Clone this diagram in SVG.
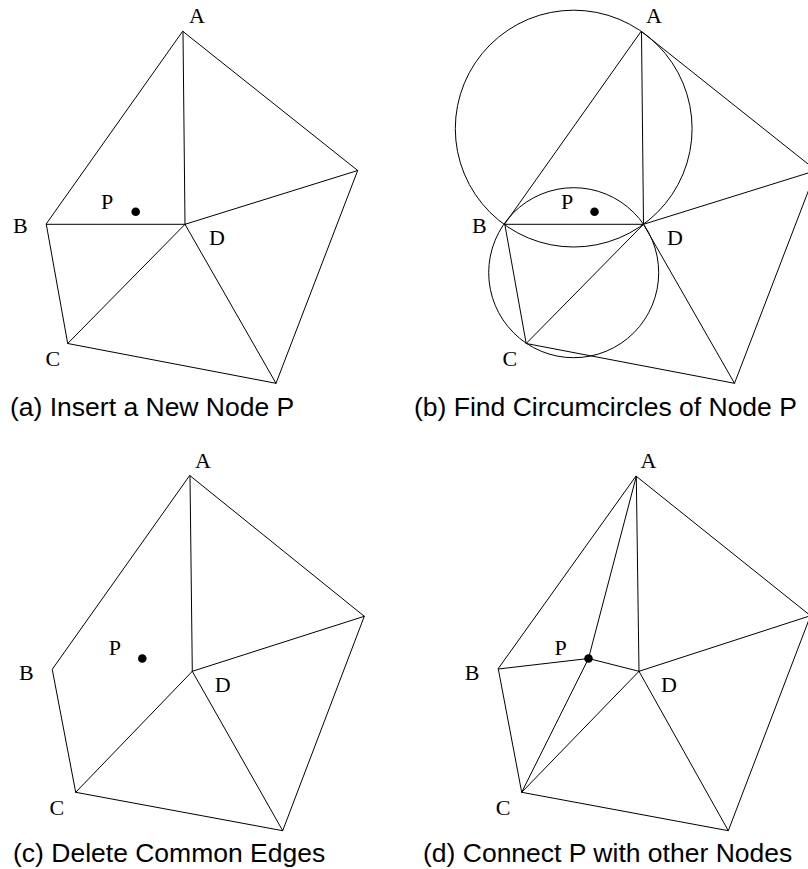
<svg xmlns="http://www.w3.org/2000/svg" width="808" height="869" viewBox="0 0 808 869">
<style>
.e{stroke:#000;stroke-width:1;fill:none;stroke-linecap:round;stroke-linejoin:round}
.c{stroke:#000;stroke-width:1;fill:none}
.l{font-family:"Liberation Serif","Times New Roman",serif;font-size:22px;fill:#000}
.cap{font-family:"Liberation Sans",Arial,sans-serif;font-size:26.5px;fill:#000}
.dot{fill:#000}
</style>
<rect width="808" height="869" fill="#fff"/>

<!-- Panel (a) -->
<g id="panel-a">
  <g id="connectors-a">
    <path class="e" d="M183,31.5 L357.7,170.5 L276,383.3 L67.7,343.5 L46.3,224.3 Z"/>
    <path class="e" d="M183,31.5 L185,224.3 M46.3,224.3 L185,224.3 M185,224.3 L357.7,170.5 M185,224.3 L276,383.3 M185,224.3 L67.7,343.5"/>
  </g>
  <g id="a-node-A"><text class="l" x="189" y="22.7">A</text></g>
  <g id="a-node-B"><text class="l" x="13" y="232.5">B</text></g>
  <g id="a-node-C"><text class="l" x="45.5" y="366">C</text></g>
  <g id="a-node-D"><text class="l" x="209" y="244.5">D</text></g>
  <g id="a-node-P"><circle class="dot" cx="135.7" cy="211.8" r="4.3"/><text class="l" x="101" y="209">P</text></g>
  <text id="caption-a" class="cap" x="10" y="415.5">(a) Insert a New Node P</text>
</g>

<!-- Panel (b) -->
<g id="panel-b">
  <g id="connectors-b">
    <circle class="c" cx="573.7" cy="128.6" r="118.4"/>
    <circle class="c" cx="573.7" cy="272.7" r="85"/>
    <path class="e" d="M641.5,31.5 L816.2,170.5 L734.5,383.3 L526.2,343.5 L504.8,224.3 Z"/>
    <path class="e" d="M641.5,31.5 L643.5,224.3 M504.8,224.3 L643.5,224.3 M643.5,224.3 L816.2,170.5 M643.5,224.3 L734.5,383.3 M643.5,224.3 L526.2,343.5"/>
  </g>
  <g id="b-node-A"><text class="l" x="646" y="22.7">A</text></g>
  <g id="b-node-B"><text class="l" x="472" y="232.5">B</text></g>
  <g id="b-node-C"><text class="l" x="502.5" y="366">C</text></g>
  <g id="b-node-D"><text class="l" x="667" y="244.5">D</text></g>
  <g id="b-node-P"><circle class="dot" cx="594.5" cy="211.8" r="4.3"/><text class="l" x="561" y="209">P</text></g>
  <text id="caption-b" class="cap" x="414" y="415.5">(b) Find Circumcircles of Node P</text>
</g>

<!-- Panel (c) -->
<g id="panel-c">
  <g id="connectors-c">
    <path class="e" d="M190,475.7 L364.3,616.3 L282.7,830.7 L75.7,792.3 L52.3,669.7 Z"/>
    <path class="e" d="M190,475.7 L192.3,671.3 M192.3,671.3 L364.3,616.3 M192.3,671.3 L282.7,830.7 M192.3,671.3 L75.7,792.3"/>
  </g>
  <g id="c-node-A"><text class="l" x="195" y="468.3">A</text></g>
  <g id="c-node-B"><text class="l" x="19" y="680">B</text></g>
  <g id="c-node-C"><text class="l" x="49.5" y="814.7">C</text></g>
  <g id="c-node-D"><text class="l" x="214.7" y="691.7">D</text></g>
  <g id="c-node-P"><circle class="dot" cx="142.3" cy="658.5" r="4.3"/><text class="l" x="108.7" y="654.7">P</text></g>
  <text id="caption-c" class="cap" x="13" y="862">(c) Delete Common Edges</text>
</g>

<!-- Panel (d) -->
<g id="panel-d">
  <g id="connectors-d">
    <path class="e" d="M636.3,476.3 L810.5,615.7 L728.3,830.7 L521.7,792.3 L498.3,669 Z"/>
    <path class="e" d="M636.3,476.3 L639,671.3 M639,671.3 L810.5,615.7 M639,671.3 L728.3,830.7 M639,671.3 L521.7,792.3"/>
    <path class="e" d="M588.5,658.5 L636.3,476.3 M588.5,658.5 L498.3,669 M588.5,658.5 L521.7,792.3 M588.5,658.5 L639,671.3"/>
  </g>
  <g id="d-node-A"><text class="l" x="640.5" y="468.3">A</text></g>
  <g id="d-node-B"><text class="l" x="464.7" y="680">B</text></g>
  <g id="d-node-C"><text class="l" x="495.8" y="814.7">C</text></g>
  <g id="d-node-D"><text class="l" x="661" y="691.7">D</text></g>
  <g id="d-node-P"><circle class="dot" cx="588.5" cy="658.5" r="4.3"/><text class="l" x="554.5" y="654.7">P</text></g>
  <text id="caption-d" class="cap" x="423" y="862">(d) Connect P with other Nodes</text>
</g>
</svg>
